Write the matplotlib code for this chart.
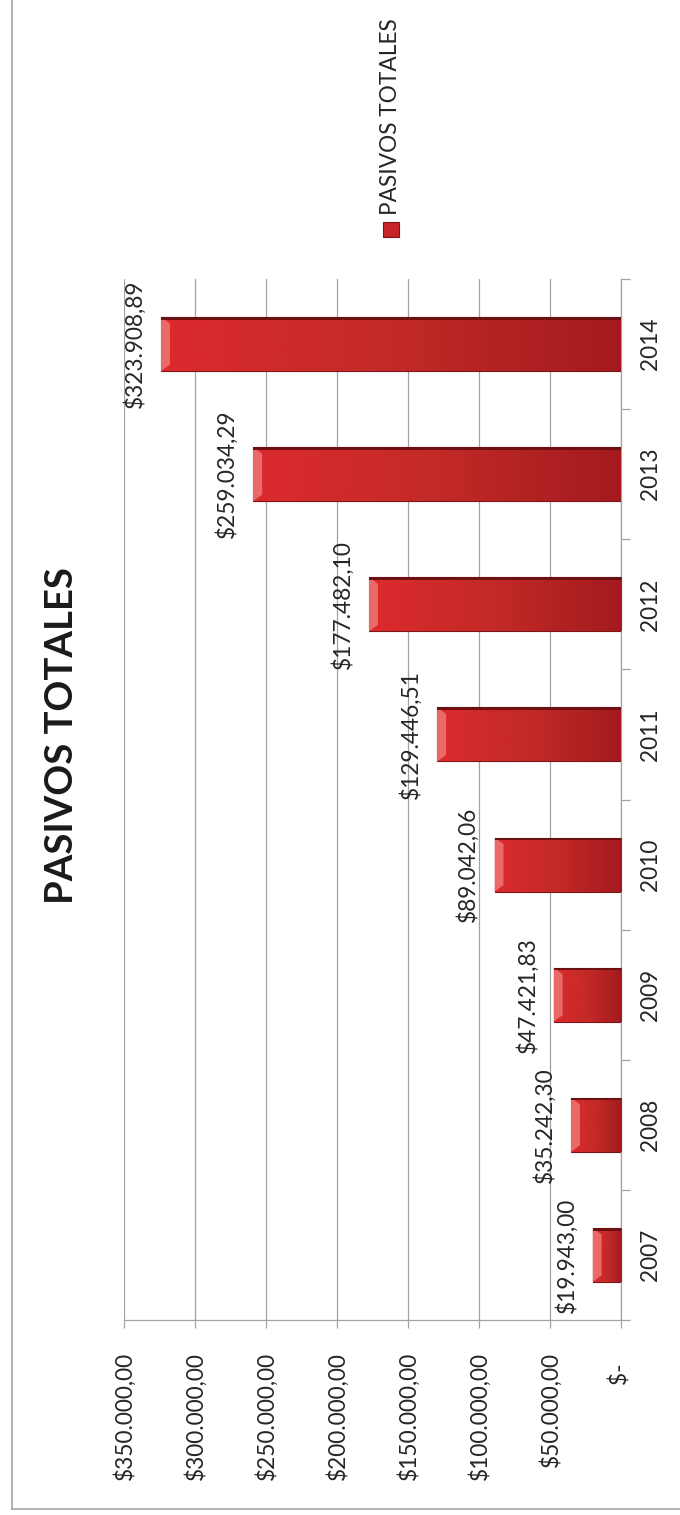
import numpy as np
import matplotlib
matplotlib.use("Agg")
import matplotlib.pyplot as plt
from matplotlib.colors import LinearSegmentedColormap
from matplotlib.patches import Polygon, Rectangle
from matplotlib.lines import Line2D
from matplotlib.ticker import FuncFormatter, FixedLocator

# ── datos ──────────────────────────────────────────────
years = ["2007", "2008", "2009", "2010", "2011", "2012", "2013", "2014"]
pasivos = [19943.00, 35242.30, 47421.83, 89042.06, 129446.51, 177482.10, 259034.29, 323908.89]
value_ticks = [0, 50000, 100000, 150000, 200000, 250000, 300000, 350000]
title = "PASIVOS TOTALES"
serie = "PASIVOS TOTALES"

plt.rcParams['font.family'] = ['Lato', 'DejaVu Sans']
TXT = "#262626"
GRID = "#a3a3a3"
FS = 16.3


def pesos(v, pos=None):
    if v == 0:
        return "$-  "
    s = f"{v:,.2f}".replace(",", "X").replace(".", ",").replace("X", ".")
    return "$" + s


W, H = 680, 1515
fig = plt.figure(figsize=(W / 100, H / 100), dpi=100)
ax = fig.add_axes([124 / W, 1 - 1320 / H, (621 - 124) / W, (1320 - 279) / H])

ypos = np.arange(len(years))
bar_h = 0.415
bars = ax.barh(ypos, pasivos, height=bar_h, color="#c62428",
               edgecolor="#7d1417", linewidth=0.8, zorder=3)

ax.set_xlim(value_ticks[-1], value_ticks[0])   # eje invertido (gráfico girado)
ax.set_ylim(-0.5, len(years) - 0.5)

# degradado de cada barra (oscuro en la base, más claro en el extremo)
cmap = LinearSegmentedColormap.from_list("rojo", ["#a31a1e", "#c22a27", "#dc2a2e"])
grad = np.linspace(0, 1, 256).reshape(1, -1)
bevel = value_ticks[-1] * 0.018
for b, v, y in zip(bars, pasivos, ypos):
    im = ax.imshow(grad, cmap=cmap, extent=[0, v, y - bar_h / 2, y + bar_h / 2],
                   aspect="auto", zorder=3.1, interpolation="bilinear")
    im.set_clip_path(b)
    bv = Polygon([(v, y - bar_h / 2), (v - bevel, y - bar_h / 2 + 0.05),
                  (v - bevel, y + bar_h / 2 - 0.05), (v, y + bar_h / 2)],
                 closed=True, facecolor="#f07a78", edgecolor="none", alpha=0.8, zorder=3.2)
    ax.add_patch(bv)
    ax.add_patch(Rectangle((0, y + bar_h / 2 - 0.02), v, 0.02, facecolor="#6e1012",
                           edgecolor="none", zorder=3.3))
ax.set_xlim(value_ticks[-1], value_ticks[0])
ax.set_ylim(-0.5, len(years) - 0.5)

# etiquetas de datos
for v, y in zip(pasivos, ypos):
    ax.annotate(pesos(v), (v, y), xytext=(-11, 0), textcoords="offset points",
                rotation=90, ha="right", va="center", fontsize=FS, color=TXT, zorder=4)

# eje de valores
ax.xaxis.set_major_locator(FixedLocator(value_ticks))
ax.xaxis.set_major_formatter(FuncFormatter(pesos))
ax.tick_params(axis="x", length=5.8, width=0.9, color=GRID, pad=17,
               labelsize=FS, labelcolor=TXT, labelrotation=90)
ax.grid(axis="x", color=GRID, linewidth=0.9, zorder=0)

# eje de categorías a la derecha
ax.yaxis.tick_right()
ax.set_yticks(ypos)
ax.set_yticklabels(years, rotation=90, va="center")
ax.set_yticks(np.arange(-0.5, len(years)), minor=True)
ax.tick_params(axis="y", which="major", length=0, pad=14, labelsize=FS, labelcolor=TXT)
ax.tick_params(axis="y", which="minor", length=6.5, width=0.9, color=GRID, direction="out")

for s in ["left", "top"]:
    ax.spines[s].set_visible(False)
for s in ["right", "bottom"]:
    ax.spines[s].set_color(GRID)
    ax.spines[s].set_linewidth(0.9)

# título
fig.text(62 / W, 1 - 736 / H, title, rotation=90, ha="center", va="center",
         fontsize=27.5, fontweight="bold", color="#1a1a1a")

# leyenda (girada, dibujada a mano)
fig.patches.append(Rectangle((383 / W, 1 - 237 / H), 16 / W, 15 / H, transform=fig.transFigure,
                             facecolor="#c62428", edgecolor="#7d1417", linewidth=0.8))
fig.text(391 / W, 1 - 215 / H, serie, rotation=90, ha="center", va="bottom",
         fontsize=FS, color=TXT)

# marco exterior
fig.add_artist(Line2D([12 / W, 12 / W], [1 - 1509 / H, 1], transform=fig.transFigure,
                      color="#a6a6a6", linewidth=1.2))
fig.add_artist(Line2D([12 / W, 1], [1 - 1509 / H, 1 - 1509 / H], transform=fig.transFigure,
                      color="#a6a6a6", linewidth=1.2))

fig.savefig("out.png", dpi=100, facecolor="white")
